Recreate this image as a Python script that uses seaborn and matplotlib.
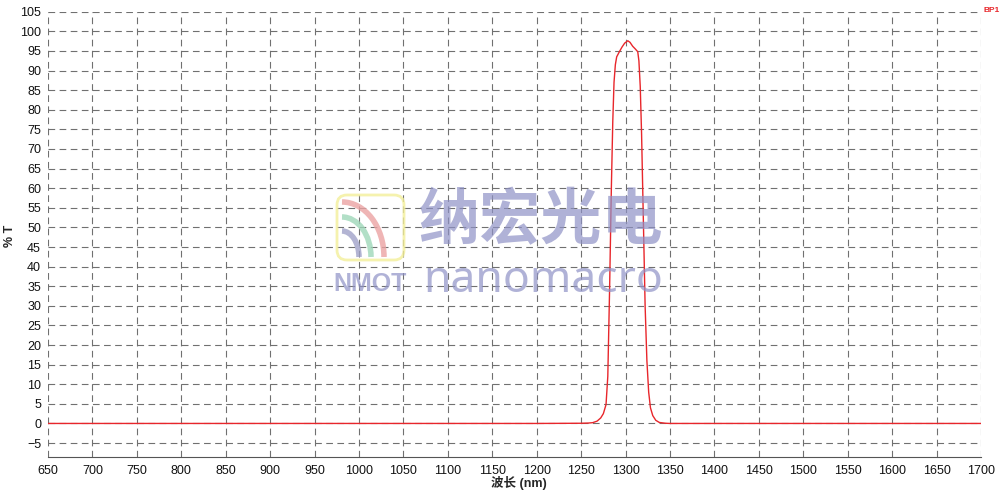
import numpy as np
import pandas as pd
import matplotlib.pyplot as plt
import seaborn as sns
from matplotlib.patches import Arc, FancyBboxPatch

# values
wavelength = [650, 800, 1000, 1200, 1250, 1258, 1263, 1268, 1272, 1275, 1278, 1280, 1282,
              1284, 1285.6, 1287, 1288.5, 1290, 1293, 1296, 1299, 1302.5, 1305, 1308,
              1311, 1313.7, 1315, 1316.5, 1318, 1320, 1322, 1324, 1326, 1328, 1330.6,
              1334, 1338, 1345, 1350, 1400, 1500, 1700]
transmission = [0.0, 0.0, 0.0, 0.0, 0.05, 0.1, 0.2, 0.6, 1.4, 2.5, 4.8, 12.0, 34.0,
                60.0, 77.0, 87.0, 91.5, 93.5, 94.8, 96.0, 97.0, 97.6, 97.2, 96.2,
                95.5, 94.8, 92.5, 86.0, 74.0, 52.0, 30.0, 16.0, 8.0, 4.0, 2.0,
                0.8, 0.25, 0.05, 0.0, 0.0, 0.0, 0.0]
x_ticks = list(range(650, 1701, 50))
y_ticks = list(range(-5, 106, 5))
series_name = 'BP1'

df = pd.DataFrame({'wl': wavelength, 'T': transmission})

sns.set_style('white')
plt.rcParams['font.family'] = ['Liberation Sans', 'Noto Sans CJK SC', 'DejaVu Sans']

fig = plt.figure(figsize=(10, 4.9), dpi=100)
ax = fig.add_axes([0.048, 0.067, 0.933, 0.909])

sns.lineplot(data=df, x='wl', y='T', color='#e8262b', linewidth=1.0, ax=ax, zorder=5)

ax.set_xlim(650, 1700)
ax.set_ylim(-8.6, 105)
ax.set_xticks(x_ticks)
ax.set_yticks(y_ticks)
ax.tick_params(axis='both', labelsize=9, width=0.8, color='#555555', labelcolor='#111111')
ax.tick_params(axis='x', length=4, pad=1.5)
ax.tick_params(axis='y', direction='inout', length=8, pad=1)
ax.grid(True, color='#707070', linestyle=(0, (6, 4)), linewidth=0.8)
ax.set_axisbelow(True)
for side in ['top', 'right', 'left']:
    ax.spines[side].set_visible(False)
ax.spines['bottom'].set_color('#555555')
ax.spines['bottom'].set_linewidth(0.8)

ax.set_xlabel('波长 (nm)', fontsize=9, fontweight='bold', va='center')
ax.xaxis.set_label_coords(0.505, -0.058)
ax.set_ylabel('% T', fontsize=9, fontweight='bold', va='center', ha='center')
ax.yaxis.set_label_coords(-0.041, 0.497)

fig.text(0.984, 0.978, series_name, color='#e8262b', fontsize=6, fontweight='bold', va='center')

# watermark, drawn on a pixel-sized overlay
wm = fig.add_axes([0, 0, 1, 1], facecolor='none')
wm.set_xlim(0, 1000)
wm.set_ylim(490, 0)
wm.axis('off')
wm_color = '#8f92c6'
wm.text(541, 221, '纳宏光电', fontsize=44, color=wm_color, alpha=0.7,
        family=['Noto Sans CJK SC'], fontweight='bold', ha='center', va='center')
wm.text(543, 292, 'nanomacro', fontsize=32, color=wm_color, alpha=0.7,
        family=['Noto Sans'], fontweight='semibold', ha='center', va='baseline')
wm.text(370, 284, 'NMOT', fontsize=18, color=wm_color, alpha=0.7,
        fontweight='bold', ha='center', va='center')
wm.add_patch(FancyBboxPatch((337, 195), 67, 65, boxstyle='round,pad=0,rounding_size=10',
                            fill=False, edgecolor='#f3ef9a', linewidth=2, alpha=0.8))
wm.add_patch(Arc((342, 257), 84, 110, theta1=270, theta2=360, color='#eba3a3', linewidth=4, alpha=0.8))
wm.add_patch(Arc((342, 257), 58, 80, theta1=270, theta2=360, color='#9fd8b9', linewidth=4, alpha=0.8))
wm.add_patch(Arc((342, 257), 34, 52, theta1=270, theta2=360, color='#a0a2c8', linewidth=4, alpha=0.8))

fig.savefig('out.png', dpi=100)
